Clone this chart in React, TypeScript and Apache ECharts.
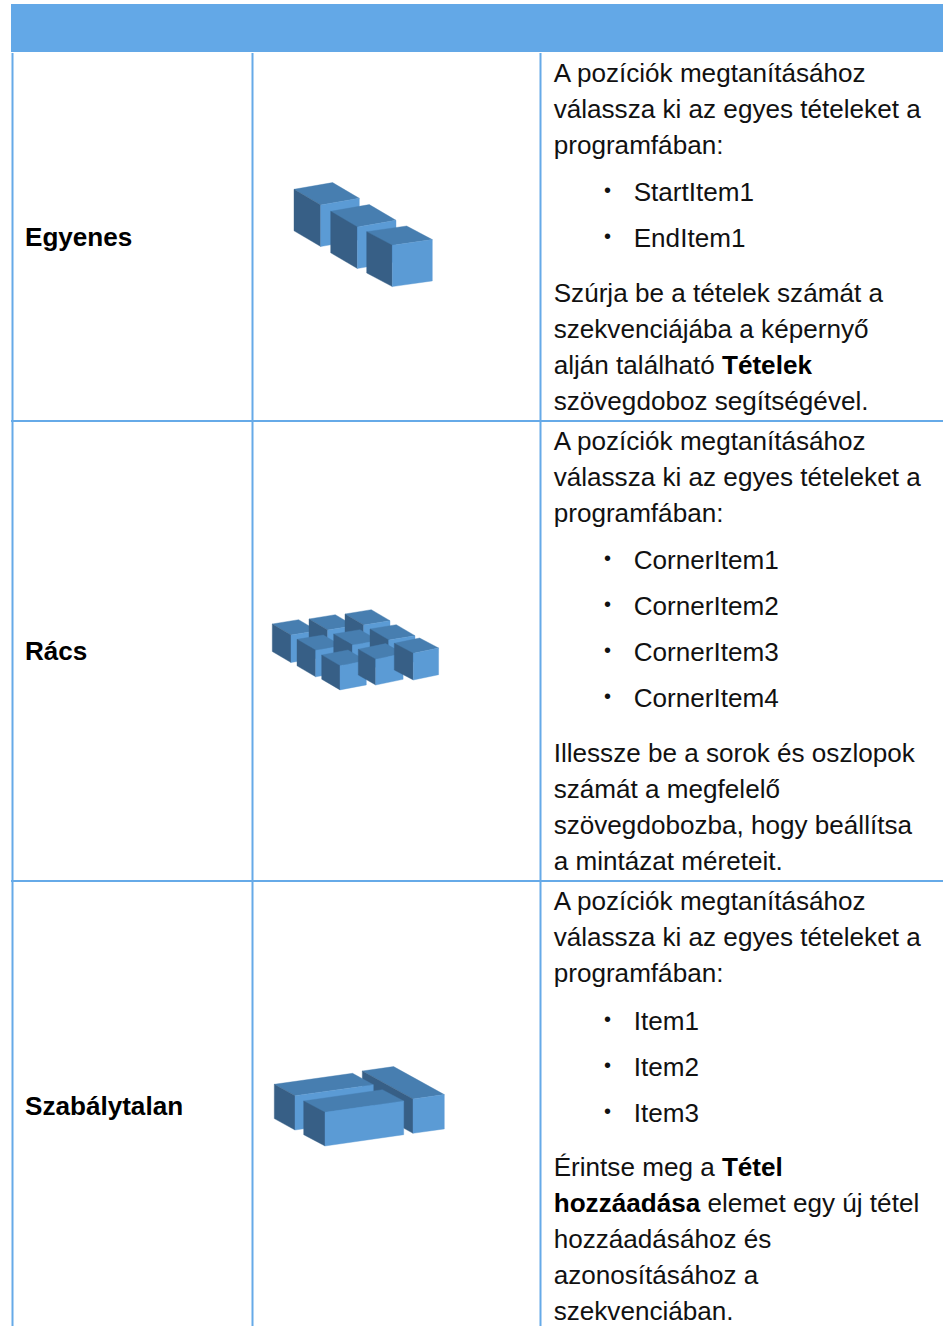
import React, { useEffect, useRef } from "react";
import * as echarts from "echarts";

const W = 943;
const H = 1326;

const rowLabels = ["Egyenes", "Rács", "Szabályta" + "lan"];
const intro = [
  "A pozíciók megtanításához",
  "válassza ki az egyes tételeket a",
  "programfában:",
];
const bullets1 = ["StartItem1", "EndItem1"];
const bullets2 = ["CornerItem1", "CornerItem2", "CornerItem3", "CornerItem4"];
const bullets3 = ["Item1", "Item2", "Item3"];
const outro1 = [
  "Szúrja be a tételek számát a",
  "szekvenciájába a képernyő",
  "alján található {b|Tételek}",
  "szövegdoboz segítségével.",
];
const outro2 = [
  "Illessze be a sorok és oszlopok",
  "számát a megfelelő",
  "szövegdobozba, hogy beállítsa",
  "a mintázat méreteit.",
];
const outro3 = [
  "Érintse meg a {b|Tétel}",
  "{b|hozzáadása} elemet egy új tétel",
  "hozzáadásához és",
  "azonosításához a",
  "szekvenciában.",
];
const bulletLists = [bullets1, bullets2, bullets3];
const outros = [outro1, outro2, outro3];

// Layout
const labelY = [237, 651, 1106];
const rowStartY = [73, 441, 901];
const bulletGap = [47, 47, 48];
const outroGap = [55, 55, 54];
const verticalX = [12.5, 252.5, 540.5];
const horizontalY = [421, 881];

// box: corner x, corner y, front vector (x,y), depth vector (x,y), height
type Box = number[];
const straightBoxes: Box[] = [
  [294, 189.3, 38.6, -6.7, 26.7, 15.7, 41.5],
  [330.7, 211.3, 38.6, -6.7, 26.7, 15.7, 41.5],
  [366.7, 231.7, 40, -5.7, 25.6, 13.6, 41.3],
];
const gridBoxes: Box[] = [
  [272.3, 624, 26.3, -4.3, 18.7, 11, 27.5],
  [309, 619, 26.3, -4.3, 18.7, 11, 27],
  [345, 614, 26.3, -4.3, 18.7, 11, 27],
  [297, 639.3, 26.3, -4.3, 18.7, 11, 26.5],
  [333.7, 634, 26.3, -4.3, 18.7, 11, 26],
  [370, 629, 26.3, -4.3, 18.7, 11, 26],
  [321.7, 655, 26.3, -5, 18.3, 10.7, 24.2],
  [358.3, 649.3, 27.4, -5.7, 17.4, 10, 25.7],
  [394.3, 643.3, 25.3, -5.3, 19, 10, 26.7],
];
const irregularBoxes: Box[] = [
  [362.3, 1071, 31.3, -4.4, 50.7, 28, 34.3],
  [274.3, 1084.3, 78.3, -11, 20.7, 11.4, 34.3],
  [303.7, 1101, 78.7, -11.3, 21.3, 11.3, 33.7],
];

const LINE = "#66aae8";
const HEADER = "#63a8e7";
const TOP = "#477eb0";
const SIDE = "#375f86";
const FRONT = "#5b9bd5";
const FONT = "'Liberation Sans', sans-serif";
const SIZE = 26.1;

function boxShapes(list: Box[]) {
  const out: any[] = [];
  for (const [x, y, ax, ay, bx, by, h] of list) {
    const p0 = [x, y];
    const p1 = [x + ax, y + ay];
    const p2 = [x + ax + bx, y + ay + by];
    const p3 = [x + bx, y + by];
    const face = (points: number[][], fill: string) => ({
      type: "polygon",
      shape: { points },
      style: { fill, stroke: fill, lineWidth: 0.4 },
    });
    out.push(face([p0, p1, p2, p3], TOP));
    out.push(face([p0, p3, [p3[0], p3[1] + h], [p0[0], p0[1] + h]], SIDE));
    out.push(face([p3, p2, [p2[0], p2[1] + h], [p3[0], p3[1] + h]], FRONT));
  }
  return out;
}

function textEl(x: number, y: number, text: string, size = SIZE) {
  return {
    type: "text",
    x,
    y,
    style: {
      text,
      fill: "#111",
      fontFamily: FONT,
      fontSize: size,
      verticalAlign: "middle",
      align: "left",
      rich: {
        b: {
          fontFamily: FONT,
          fontSize: size,
          fontWeight: "bold",
          fill: "#000",
        },
      },
    },
  };
}

function buildElements() {
  const els: any[] = [];
  els.push({ type: "rect", shape: { x: 11, y: 4, width: W - 11, height: 48 }, style: { fill: HEADER } });
  for (const x of verticalX) {
    els.push({
      type: "line",
      shape: { x1: x, y1: 53, x2: x, y2: H },
      style: { stroke: LINE, lineWidth: 2 },
    });
  }
  for (const y of horizontalY) {
    els.push({
      type: "line",
      shape: { x1: 11, y1: y, x2: W, y2: y },
      style: { stroke: LINE, lineWidth: 2 },
    });
  }
  rowLabels.forEach((label, i) => {
    els.push(textEl(25, labelY[i], `{b|${label}}`));
    let y = rowStartY[i];
    for (const line of intro) {
      els.push(textEl(553.7, y, line));
      y += 36;
    }
    y += bulletGap[i] - 36;
    for (const item of bulletLists[i]) {
      els.push(textEl(604, y - 2, "•", 20));
      els.push(textEl(633.7, y, item));
      y += 46;
    }
    y += outroGap[i] - 46;
    for (const line of outros[i]) {
      els.push(textEl(553.7, y, line));
      y += 36;
    }
  });
  els.push(...boxShapes(straightBoxes), ...boxShapes(gridBoxes), ...boxShapes(irregularBoxes));
  return els;
}

export default function App() {
  const ref = useRef<HTMLDivElement>(null);
  useEffect(() => {
    document.body.style.margin = "0";
    const chart = echarts.init(ref.current!, undefined, { renderer: "svg", width: W, height: H });
    chart.setOption({ animation: false, graphic: { elements: buildElements() } });
    return () => chart.dispose();
  }, []);
  return <div ref={ref} style={{ width: W, height: H, overflow: "hidden" }} />;
}
